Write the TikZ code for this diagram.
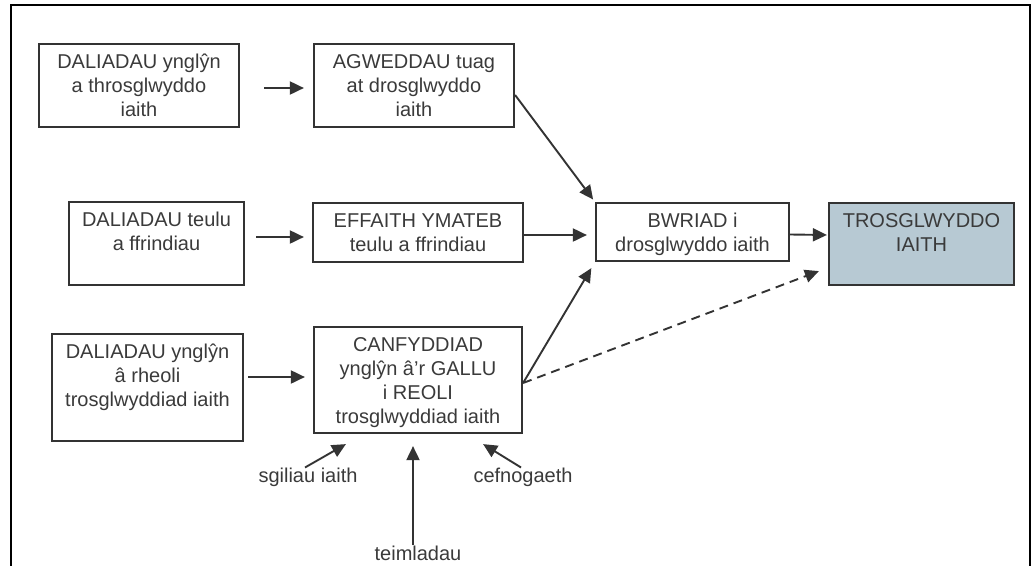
\documentclass[tikz,border=0pt]{standalone}
\usepackage{fontspec}
\setmainfont{Liberation Sans}
\usetikzlibrary{arrows.meta}
\definecolor{ink}{HTML}{3A3A3A}
\definecolor{edge}{HTML}{333333}
\definecolor{goalfill}{HTML}{B7C9D3}

\begin{document}
\begin{tikzpicture}[x=1pt,y=-1pt,
  box/.style={draw=edge, line width=2.2pt, inner sep=0pt},
  boxtext/.style={text=ink, font=\fontsize{20}{24}\selectfont, align=center,
    inner sep=0pt, anchor=north},
  lab/.style={text=ink, font=\fontsize{20}{24}\selectfont, inner sep=0pt},
  arr/.style={draw=edge, line width=1.9pt, -{Triangle[length=14pt,width=13pt]}},
  dasharr/.style={arr, dash pattern=on 9pt off 6pt},
]
\useasboundingbox (0,0) rectangle (1032,565);

% outer frame, open at the bottom
\draw[line width=2.2pt] (11,580) -- (11,5) -- (1030,5) -- (1030,580);

% boxes
\node[box, minimum width=200pt, minimum height=83pt] (a1) at (139,85.5) {};
\node[box, minimum width=200pt, minimum height=83pt] (a2) at (414,85.5) {};
\node[box, minimum width=175pt, minimum height=83pt] (b1) at (156.5,243.5) {};
\node[box, minimum width=210pt, minimum height=59pt] (b2) at (418,232.5) {};
\node[box, minimum width=193pt, minimum height=58pt] (b3) at (692.5,232) {};
\node[box, fill=goalfill, minimum width=185pt, minimum height=82pt] (t) at (921.5,244) {};
\node[box, minimum width=191pt, minimum height=107pt] (c1) at (147.5,387.5) {};
\node[box, minimum width=208pt, minimum height=106pt] (c2) at (418,380) {};

% box texts
\node[boxtext] (a1t) at ([yshift=-9pt]a1.north) {\strut DALIADAU ynglŷn\\a throsglwyddo\\iaith};
\node[boxtext] (a2t) at ([yshift=-9pt]a2.north) {\strut AGWEDDAU tuag\\at drosglwyddo\\iaith};
\node[boxtext] (b1t) at ([yshift=-9pt]b1.north) {\strut DALIADAU teulu\\a ffrindiau};
\node[boxtext] (b2t) at ([yshift=-9pt]b2.north) {\strut EFFAITH YMATEB\\teulu a ffrindiau};
\node[boxtext] (b3t) at ([yshift=-9pt]b3.north) {\strut BWRIAD i\\drosglwyddo iaith};
\node[boxtext] (tt) at ([yshift=-9pt]t.north) {\strut TROSGLWYDDO\\IAITH};
\node[boxtext] (c1t) at ([yshift=-9pt]c1.north) {\strut DALIADAU ynglŷn\\â rheoli\\trosglwyddiad iaith};
\node[boxtext] (c2t) at ([yshift=-9pt]c2.north) {\strut CANFYDDIAD\\ynglŷn â’r GALLU\\i REOLI\\trosglwyddiad iaith};

% free labels
\node[lab] (sg) at (308,477) {sgiliau iaith};
\node[lab] (te) at (418,553) {teimladau};
\node[lab] (ce) at (523,477) {cefnogaeth};

% connectors
\draw[arr, shorten <=24pt, shorten >=9pt] ([yshift=-2.5pt]a1.east) -- ([yshift=-2.5pt]a2.west);
\draw[arr, shorten <=11pt, shorten >=8pt] ([yshift=6.5pt]b1.east) -- ([yshift=-4.5pt]b2.west);
\draw[arr, shorten >=8pt] ([yshift=-2.5pt]b2.east) -- ([yshift=-3pt]b3.west);
\draw[arr, shorten >=1pt] ([yshift=-2.5pt]b3.east) -- ([yshift=9pt]t.west);
\draw[arr, shorten >=3pt] ([yshift=-9.5pt]a2.east) -- (b3.north west);
\draw[arr, shorten <=4pt, shorten >=8pt] ([yshift=10.5pt]c1.east) -- ([yshift=3pt]c2.west);
\draw[arr, shorten >=7pt] ([yshift=-3pt]c2.east) -- (b3.south west);
\draw[dasharr] ([yshift=-3pt]c2.east) -- ([xshift=-9pt,yshift=15pt]t.south west);
\draw[arr] ([xshift=-3pt]sg.north) -- ([xshift=33pt,yshift=-10pt]c2.south west);
\draw[arr, shorten >=12pt] ([xshift=-5pt]te.north) -- ([xshift=-5pt]te.north |- c2.south);
\draw[arr] ([xshift=-2pt]ce.north) -- ([xshift=-40pt,yshift=-10pt]c2.south east);
\end{tikzpicture}
\end{document}
